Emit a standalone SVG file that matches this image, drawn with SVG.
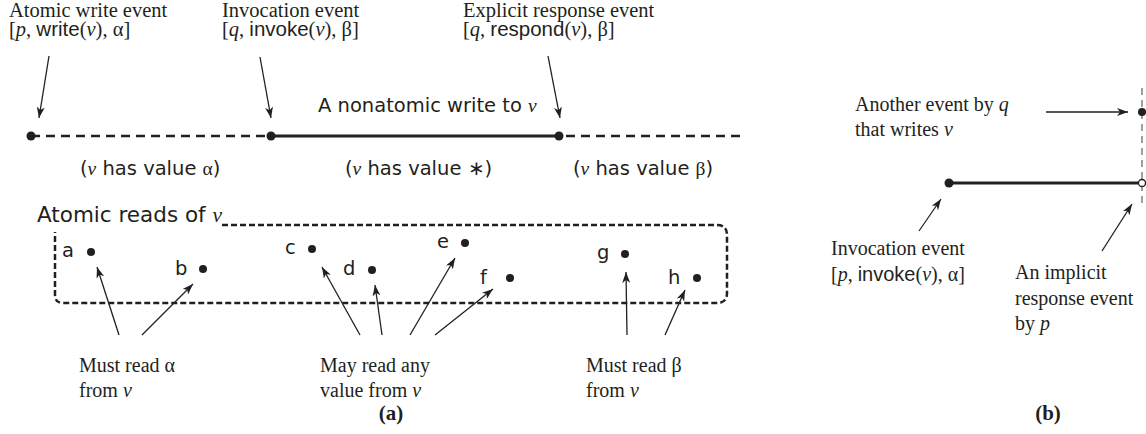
<svg xmlns="http://www.w3.org/2000/svg" width="1146" height="434" viewBox="0 0 1146 434">
<style>
text{fill:#231f20}
.t{font-family:"Liberation Serif",serif;font-size:20px}
.top{font-size:20.5px}
.a{font-family:"Liberation Sans",sans-serif}
.s{font-family:"DejaVu Sans",sans-serif;font-size:19.5px}
.sv{font-family:"Liberation Serif",serif;font-style:italic}
.g{font-family:"Liberation Serif",serif}
.i{font-style:italic}
.cap{font-family:"Liberation Serif",serif;font-weight:bold;font-size:21px}
.arr{stroke:#231f20;stroke-width:1.3;fill:none;marker-end:url(#ah)}
.dot{fill:#231f20}
</style>
<defs>
<marker id="ah" markerUnits="userSpaceOnUse" markerWidth="12" markerHeight="8" refX="11" refY="4" orient="auto">
<path d="M0,0 L11,4 L0,8 L3,4 z" fill="#231f20"/>
</marker>
</defs>

<g id="timeline">
<line x1="31" y1="136" x2="271" y2="136" stroke="#231f20" stroke-width="2.5" stroke-dasharray="9 6"/>
<line x1="271" y1="136" x2="559" y2="136" stroke="#231f20" stroke-width="3"/>
<line x1="566" y1="136" x2="740" y2="136" stroke="#231f20" stroke-width="2.5" stroke-dasharray="9 6"/>
<circle class="dot" cx="31" cy="136" r="4.5"/>
<circle class="dot" cx="271" cy="136" r="4.5"/>
<circle class="dot" cx="559" cy="136" r="4.5"/>
<text class="s" x="318" y="112">A nonatomic write to <tspan class="sv">v</tspan></text>
<text class="s" x="80" y="175">(<tspan class="sv">v</tspan> has value <tspan class="g">α</tspan>)</text>
<text class="s" x="345" y="175">(<tspan class="sv">v</tspan> has value <tspan class="g">∗</tspan>)</text>
<text class="s" x="573" y="175">(<tspan class="sv">v</tspan> has value <tspan class="g">β</tspan>)</text>
</g>

<g id="label-atomic-write">
<text class="t top" x="9" y="17">Atomic write event</text>
<text class="t top" x="9" y="36">[<tspan class="i">p</tspan>, <tspan class="a">write</tspan>(<tspan class="i">v</tspan>), α]</text>
</g>
<g id="label-invocation">
<text class="t top" x="222" y="17">Invocation event</text>
<text class="t top" x="222" y="36">[<tspan class="i">q</tspan>, <tspan class="a">invoke</tspan>(<tspan class="i">v</tspan>), β]</text>
</g>
<g id="label-response">
<text class="t top" x="463" y="17">Explicit response event</text>
<text class="t top" x="463" y="36">[<tspan class="i">q</tspan>, <tspan class="a">respond</tspan>(<tspan class="i">v</tspan>), β]</text>
</g>

<g id="reads-box">
<text class="s" x="37" y="222" style="font-size:21.5px">Atomic reads of <tspan class="sv">v</tspan></text>
<path d="M222,225 H717 Q727,225 727,235 V293 Q727,303 717,303 H63 Q55,303 55,295 V232" fill="none" stroke="#231f20" stroke-width="2.5" stroke-dasharray="6 3"/>
</g>

<g id="read-a"><text class="s" x="62" y="257">a</text><circle class="dot" cx="91" cy="252" r="4"/></g>
<g id="read-b"><text class="s" x="175" y="275">b</text><circle class="dot" cx="203" cy="269" r="4"/></g>
<g id="read-c"><text class="s" x="285" y="254">c</text><circle class="dot" cx="312" cy="249" r="4"/></g>
<g id="read-d"><text class="s" x="343" y="275">d</text><circle class="dot" cx="372" cy="270" r="4"/></g>
<g id="read-e"><text class="s" x="437" y="248">e</text><circle class="dot" cx="465" cy="243" r="4"/></g>
<g id="read-f"><text class="s" x="480" y="284">f</text><circle class="dot" cx="510" cy="278" r="4"/></g>
<g id="read-g"><text class="s" x="597" y="259">g</text><circle class="dot" cx="625" cy="254" r="4"/></g>
<g id="read-h"><text class="s" x="668" y="284">h</text><circle class="dot" cx="697" cy="278" r="4"/></g>

<g id="label-must-alpha">
<text class="t" x="79" y="372">Must read α</text>
<text class="t" x="79" y="397">from <tspan class="i">v</tspan></text>
</g>
<g id="label-may-any">
<text class="t" x="320" y="372">May read any</text>
<text class="t" x="320" y="397">value from <tspan class="i">v</tspan></text>
</g>
<g id="label-must-beta">
<text class="t" x="586" y="372">Must read β</text>
<text class="t" x="586" y="397">from <tspan class="i">v</tspan></text>
</g>
<text class="cap" x="391" y="420" text-anchor="middle">(a)</text>

<g id="panel-b">
<line x1="1142" y1="88" x2="1142" y2="207" stroke="#808080" stroke-width="1.5" stroke-dasharray="7 5"/>
<line x1="949" y1="183" x2="1139" y2="183" stroke="#231f20" stroke-width="3"/>
<circle class="dot" cx="949" cy="183" r="4.5"/>
<circle cx="1142" cy="183" r="3.5" fill="#fff" stroke="#231f20" stroke-width="1.3"/>
<circle class="dot" cx="1142" cy="112" r="4"/>
</g>
<g id="label-another">
<text class="t" x="855" y="111">Another event by <tspan class="i">q</tspan></text>
<text class="t" x="855" y="136">that writes <tspan class="i">v</tspan></text>
</g>
<g id="label-invocation-b">
<text class="t" x="831" y="255">Invocation event</text>
<text class="t" x="831" y="281">[<tspan class="i">p</tspan>, <tspan class="a">invoke</tspan>(<tspan class="i">v</tspan>), α]</text>
</g>
<g id="label-implicit">
<text class="t" x="1015" y="279">An implicit</text>
<text class="t" x="1015" y="305">response event</text>
<text class="t" x="1015" y="330">by <tspan class="i">p</tspan></text>
</g>
<text class="cap" x="1048" y="420" text-anchor="middle">(b)</text>

<g id="connectors">
<line class="arr" x1="49" y1="56" x2="39" y2="118"/>
<line class="arr" x1="260" y1="57" x2="271" y2="118"/>
<line class="arr" x1="548" y1="56" x2="560" y2="118"/>
<line class="arr" x1="119" y1="335" x2="97" y2="267"/>
<line class="arr" x1="142" y1="335" x2="193" y2="284"/>
<line class="arr" x1="360" y1="335" x2="322" y2="267"/>
<line class="arr" x1="382" y1="335" x2="375" y2="285"/>
<line class="arr" x1="410" y1="335" x2="455" y2="258"/>
<line class="arr" x1="435" y1="335" x2="493" y2="289"/>
<line class="arr" x1="627" y1="335" x2="626" y2="272"/>
<line class="arr" x1="665" y1="335" x2="685" y2="290"/>
<line class="arr" x1="1046" y1="112" x2="1128" y2="112"/>
<line class="arr" x1="919" y1="231" x2="941" y2="199"/>
<line class="arr" x1="1102" y1="251" x2="1132" y2="204"/>
</g>
</svg>
